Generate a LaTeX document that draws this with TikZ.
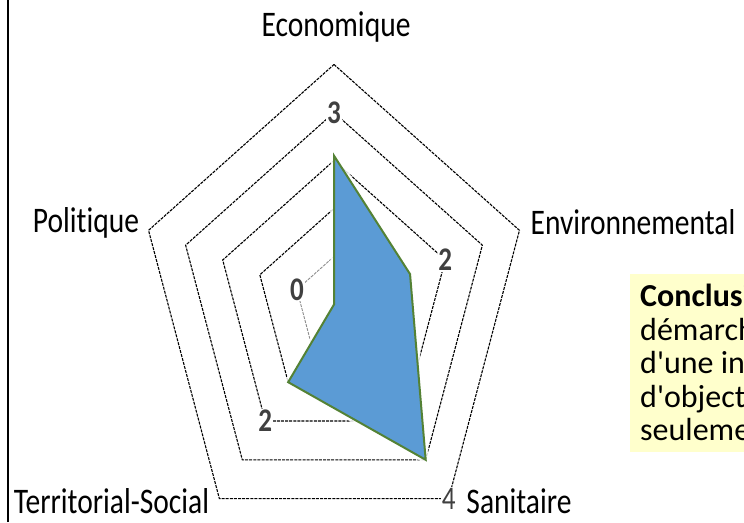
\documentclass[tikz,border=0pt]{standalone}
\usepackage{fontspec}
\setmainfont{Carlito}[Ligatures={NoCommon}]
\usepackage{graphicx}
\definecolor{dataBlue}{HTML}{5B9BD5}
\definecolor{dataGreen}{HTML}{548235}
\definecolor{tickGray}{HTML}{404040}
\definecolor{noteYellow}{HTML}{FFFFCC}
\begin{document}
\begin{tikzpicture}[x=1pt,y=1pt,
  catlabel/.style={inner sep=0pt, anchor=base, text=black, font=\fontsize{36}{40}\selectfont},
  ticklabel/.style={inner sep=0.8pt, fill=white, text=tickGray, font=\fontsize{33}{36}\selectfont\bfseries},
  gridring/.style={draw=black, line width=1.1pt, dash pattern=on 3pt off 1.1pt},
  innerring/.style={draw=black!45, line width=0.9pt, dash pattern=on 3pt off 1.1pt},
  notetext/.style={inner sep=0pt, anchor=base west, text=black, font=\fontsize{32}{34}\selectfont},
]
\useasboundingbox (0,0) rectangle (744,522);
\begin{scope}
\clip (0,0) rectangle (744,522);
% left border
\draw[black, line width=2.5pt] (8,0) -- (8,522);
% radar chart
\begin{scope}[shift={(334,217.5)}, x=195pt, y=240pt]
  \foreach \f in {0.4,0.6,0.8,1}{
    \draw[gridring] (90:\f) -- (18:\f) -- (-54:\f) -- (-126:\f) -- (162:\f) -- cycle;
  }
  \draw[innerring] (90:0.2) -- (18:0.2) -- (-54:0.2) -- (-126:0.2) -- (162:0.2) -- cycle;
  % data halo
  \draw[white, opacity=0.85, line width=7pt, line join=round]
    (90:0.62) -- (18:0.41) -- (-54:0.8) -- (-126:0.4) -- (0,0) -- cycle;
  % data polygon
  \filldraw[fill=dataBlue, draw=dataGreen, line width=2pt, line join=miter]
    (90:0.62) -- (18:0.41) -- (-54:0.8) -- (-126:0.4) -- (0,0) -- cycle;
  % scale labels
  \node[ticklabel] (t3) at (90:0.8) {\scalebox{0.82}[1]{3}};
  \node[ticklabel] (t2a) at (18:0.6) {\scalebox{0.82}[1]{2}};
  \node[ticklabel, font=\fontsize{33}{36}\selectfont] (t4) at (-54:1) {\scalebox{0.82}[1]{4}};
  \node[ticklabel] (t2b) at (-126:0.6) {\scalebox{0.82}[1]{2}};
  \node[ticklabel] (t0) at (162:0.2) {\scalebox{0.82}[1]{0}};
\end{scope}
% category labels
\node[catlabel] (eco) at (336,485) {\scalebox{0.82}[1]{Economique}};
\node[catlabel] (pol) at (86,289) {\scalebox{0.82}[1]{Politique}};
\node[catlabel] (env) at (633,287) {\scalebox{0.82}[1]{Environnemental}};
\node[catlabel] (ter) at (111.5,9) {\scalebox{0.82}[1]{Territorial-Social}};
\node[catlabel] (san) at (519,9) {\scalebox{0.82}[1]{Sanitaire}};
% note box
\fill[noteYellow] (630,70) rectangle (760,248);
\node[notetext] (n1) at (640,215) {\textbf{Conclusi}};
\node[notetext] (n2) at (640,181.5) {démarch};
\node[notetext] (n3) at (640,148) {d\textquotesingle une in};
\node[notetext] (n4) at (640,114.5) {d\textquotesingle object};
\node[notetext] (n5) at (640,81) {seuleme};
\end{scope}
\end{tikzpicture}
\end{document}
